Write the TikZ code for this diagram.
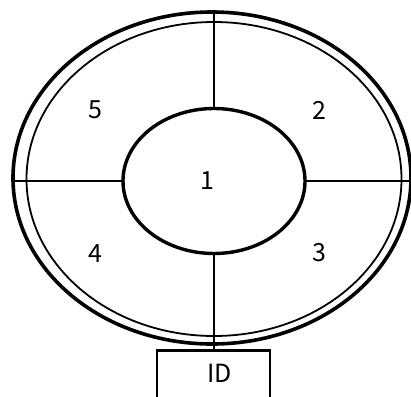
\documentclass[tikz,border=0pt]{standalone}
\usepackage{fontspec}
\newfontfamily\jpfont{Noto Sans CJK JP}
\usetikzlibrary{shapes.geometric}
\begin{document}
\begin{tikzpicture}[x=1pt,y=-1pt,
  ring/.style={ellipse,draw,line width=#1,inner sep=0pt,outer sep=0pt},
  divider/.style={line width=2.8pt},
  lbl/.style={font=\jpfont\fontsize{25}{25}\selectfont,inner sep=0pt},
  idbox/.style={rectangle,draw,line width=2.8pt,minimum width=113pt,minimum height=52pt,anchor=north,inner sep=0pt,font=\jpfont\fontsize{25}{25}\selectfont}]
\useasboundingbox (0,0) rectangle (411,396);
\node[ring=3.6pt,minimum width=398pt,minimum height=332pt] (outer) at (212,178) {};
\node[ring=1.8pt,minimum width=375pt,minimum height=314pt] (innerring) at (214,179) {};
\node[ring=3.4pt,minimum width=182pt,minimum height=145pt] (c) at (214,181) {};
\node[idbox] (id) at (213.5,349) {\hspace*{12pt}ID\vphantom{Ig}};
\draw[divider] (c.north) -- (c.north |- outer.north);
\draw[divider] (c.west) -- (c.west -| outer.west);
\draw[divider] (c.east) -- (c.east -| outer.east);
\draw[divider] (c.south) -- (c.south |- id.north);
\node[lbl] (n1) at (207,181) {1};
\node[lbl] (n2) at (319,110) {2};
\node[lbl] (n3) at (319.5,253) {3};
\node[lbl] (n4) at (95,253.5) {4};
\node[lbl] (n5) at (95.5,110) {5};
\end{tikzpicture}
\end{document}
